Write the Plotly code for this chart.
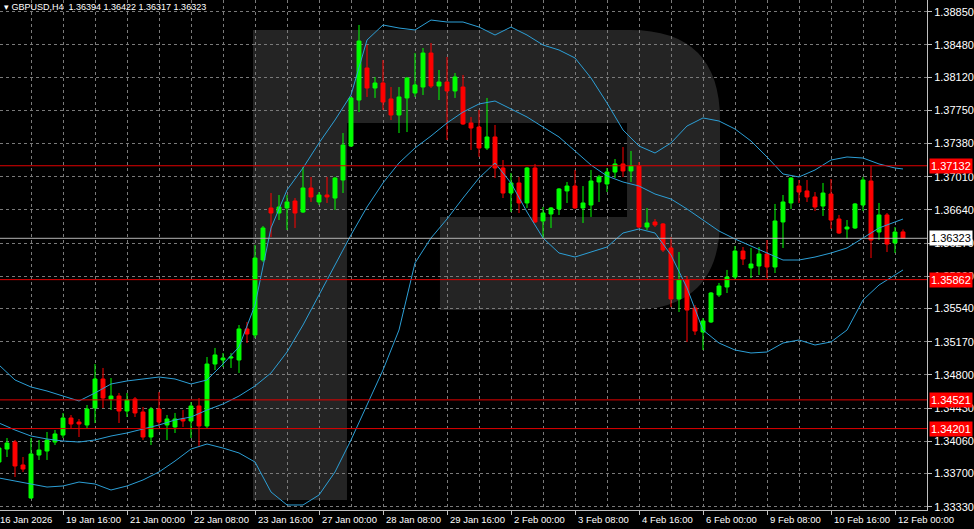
import plotly.graph_objects as go

# ---------------- data ----------------
open_ = [1.33828,1.33973,1.34051,1.33795,1.33427,1.33906,1.33951,1.34051,1.34129,1.34319,
         1.34274,1.34241,1.34430,1.34754,1.34531,1.34564,1.34397,1.34531,1.34386,1.34107,
         1.34419,1.34241,1.34219,1.34308,1.34286,1.34453,1.34230,1.34921,1.34966,1.34988,
         1.34966,1.35312,1.35245,1.36081,1.36661,1.36605,1.36661,1.36739,1.36616,1.36884,
         1.36728,1.36806,1.36772,1.36973,1.37352,1.37865,1.38222,1.37999,1.38055,1.37877,
         1.37698,1.37888,1.37943,1.38010,1.38389,1.38021,1.38066,1.37966,1.38010,1.37609,
         1.37564,1.37330,1.37453,1.37107,1.36828,1.36940,1.36717,1.37107,1.36516,1.36594,
         1.36650,1.36851,1.36906,1.36661,1.36694,1.36951,1.36929,1.37062,1.37152,1.37074,
         1.37129,1.36449,1.36505,1.36483,1.36215,1.35646,1.35858,1.35546,1.35278,1.35390,
         1.35691,1.35780,1.35891,1.36181,1.35992,1.36014,1.36148,1.36003,1.36505,1.36717,
         1.36906,1.36851,1.36784,1.36683,1.36817,1.36538,1.36427,1.36438,1.36694,1.36962,
         1.36393,1.36583,1.36271,1.36394]
high_ = [1.34074,1.34096,1.34074,1.33884,1.34096,1.34074,1.34163,1.34185,1.34375,1.34352,
         1.34308,1.34464,1.34921,1.34877,1.34765,1.34598,1.34598,1.34553,1.34442,1.34442,
         1.34609,1.34352,1.34375,1.34408,1.34497,1.34542,1.34999,1.35100,1.35044,1.35044,
         1.35356,1.35390,1.36248,1.36460,1.36828,1.36806,1.36806,1.36772,1.37118,1.37007,
         1.36839,1.37007,1.37007,1.37497,1.37899,1.38702,1.38479,1.38122,1.38311,1.38010,
         1.38010,1.38122,1.38389,1.38445,1.38501,1.38200,1.38345,1.38166,1.38144,1.37676,
         1.37754,1.37888,1.37587,1.37196,1.37051,1.37007,1.37118,1.37152,1.36672,1.36672,
         1.36884,1.36951,1.37085,1.36906,1.37085,1.37029,1.37107,1.37207,1.37341,1.37297,
         1.37174,1.36661,1.36538,1.36494,1.36337,1.36170,1.35903,1.35579,1.35434,1.35724,
         1.35825,1.35970,1.36237,1.36226,1.36215,1.36226,1.36304,1.36706,1.36806,1.37007,
         1.36973,1.36973,1.36839,1.36940,1.36984,1.36583,1.36527,1.36717,1.37007,1.37129,
         1.36717,1.36605,1.36449,1.36422]
low_ = [1.33739,1.33884,1.33661,1.33717,1.33416,1.33851,1.33851,1.34018,1.34096,1.34207,
        1.34107,1.34207,1.34263,1.34430,1.34408,1.34263,1.34330,1.34330,1.34074,1.34018,
        1.34219,1.34074,1.34152,1.34219,1.34096,1.33996,1.34207,1.34854,1.34888,1.34877,
        1.34821,1.35155,1.35211,1.36059,1.36337,1.36527,1.36416,1.36438,1.36605,1.36728,
        1.36694,1.36717,1.36639,1.36828,1.37341,1.37731,1.37899,1.37888,1.37754,1.37642,
        1.37497,1.37508,1.37899,1.37921,1.37999,1.37865,1.37419,1.37888,1.37587,1.37308,
        1.37230,1.37308,1.36995,1.36772,1.36616,1.36605,1.36661,1.36494,1.36326,1.36438,
        1.36583,1.36717,1.36650,1.36494,1.36561,1.36728,1.36839,1.36995,1.37007,1.36951,
        1.36438,1.36416,1.36449,1.36170,1.35557,1.35501,1.35167,1.35245,1.35077,1.35378,
        1.35668,1.35713,1.35858,1.36025,1.35880,1.35914,1.35880,1.35936,1.36215,1.36650,
        1.36717,1.36728,1.36627,1.36572,1.36427,1.36371,1.36315,1.36427,1.36627,1.36103,
        1.36304,1.36170,1.36159,1.36317]
close_ = [1.33984,1.34040,1.33784,1.33750,1.33918,1.33962,1.34074,1.34141,1.34319,1.34252,
          1.34252,1.34419,1.34754,1.34542,1.34564,1.34397,1.34520,1.34375,1.34107,1.34419,
          1.34274,1.34308,1.34308,1.34286,1.34453,1.34230,1.34921,1.35022,1.34988,1.34999,
          1.35312,1.35256,1.36103,1.36438,1.36605,1.36672,1.36728,1.36605,1.36884,1.36784,
          1.36806,1.36784,1.36995,1.37363,1.37888,1.38523,1.37999,1.38055,1.37843,1.37698,
          1.37899,1.38111,1.38033,1.38389,1.38021,1.38066,1.37966,1.38122,1.37598,1.37553,
          1.37330,1.37453,1.37107,1.36828,1.36940,1.36717,1.37107,1.36505,1.36605,1.36661,
          1.36873,1.36906,1.36661,1.36717,1.36962,1.37007,1.37062,1.37152,1.37074,1.37129,
          1.36449,1.36494,1.36471,1.36193,1.35646,1.35858,1.35523,1.35289,1.35401,1.35713,
          1.35791,1.35891,1.36181,1.36092,1.36036,1.36148,1.36003,1.36516,1.36728,1.36995,
          1.36839,1.36784,1.36672,1.36828,1.36527,1.36382,1.36449,1.36706,1.36973,1.36304,
          1.36583,1.36259,1.36393,1.36323]

# Bollinger bands, read every second bar
band_idx = list(range(0, 113, 2)) + [113]
bb_upper = [1.34910,1.34743,1.34665,1.34620,1.34564,1.34509,1.34598,1.34698,1.34732,1.34754,
            1.34776,1.34754,1.34698,1.34743,1.34921,1.35111,1.35579,1.36438,1.36862,1.37107,
            1.37386,1.37642,1.37921,1.38534,1.38702,1.38668,1.38646,1.38757,1.38735,1.38735,
            1.38679,1.38590,1.38679,1.38590,1.38479,1.38423,1.38334,1.38111,1.37832,1.37531,
            1.37352,1.37274,1.37386,1.37575,1.37665,1.37631,1.37542,1.37408,1.37230,1.37040,
            1.37007,1.37085,1.37196,1.37230,1.37218,1.37152,1.37107,1.37096]
bb_middle = [1.34263,1.34185,1.34118,1.34085,1.34062,1.34051,1.34074,1.34118,1.34152,1.34196,
             1.34241,1.34297,1.34330,1.34408,1.34475,1.34564,1.34676,1.34821,1.35055,1.35356,
             1.35691,1.36036,1.36360,1.36672,1.36940,1.37163,1.37330,1.37464,1.37609,1.37731,
             1.37821,1.37854,1.37765,1.37676,1.37564,1.37453,1.37297,1.37140,1.37018,1.36951,
             1.36906,1.36817,1.36761,1.36650,1.36527,1.36404,1.36315,1.36237,1.36159,1.36081,
             1.36081,1.36114,1.36159,1.36215,1.36326,1.36438,1.36505,1.36538]
bb_lower = [1.33650,1.33616,1.33583,1.33549,1.33561,1.33605,1.33583,1.33516,1.33561,1.33628,
            1.33717,1.33839,1.33973,1.34029,1.33984,1.33929,1.33828,1.33494,1.33349,1.33349,
            1.33460,1.33717,1.34074,1.34464,1.34854,1.35300,1.36048,1.36326,1.36538,1.36772,
            1.36995,1.37163,1.36940,1.36616,1.36326,1.36159,1.36114,1.36170,1.36226,1.36382,
            1.36427,1.36382,1.36137,1.35769,1.35300,1.35155,1.35077,1.35044,1.35055,1.35155,
            1.35189,1.35133,1.35167,1.35300,1.35635,1.35802,1.35914,1.35970]

# horizontal levels
red_levels = [1.37132, 1.35862, 1.34521, 1.34201]
bid_level = 1.36323

# axes
price_ticks = [1.38850,1.38480,1.38120,1.37750,1.37380,1.37010,1.36640,1.36270,
               1.35900,1.35540,1.35170,1.34800,1.34430,1.34060,1.33700,1.33330]
time_label_idx = [0,8,16,24,32,40,48,56,64,72,80,88,96,104,112]
time_labels = ["16 Jan 2026","19 Jan 16:00","21 Jan 00:00","22 Jan 08:00","23 Jan 16:00",
               "27 Jan 00:00","28 Jan 08:00","29 Jan 16:00","2 Feb 00:00","3 Feb 08:00",
               "4 Feb 16:00","6 Feb 00:00","9 Feb 08:00","10 Feb 16:00","12 Feb 00:00"]
title_text = "GBPUSD,H4  1.36394 1.36422 1.36317 1.36323"

# ---------------- figure ----------------
W, H = 974, 529
PW, PH = 927, 510   # plot area in px
FONT = "Liberation Sans"
bars = list(range(len(open_)))

fig = go.Figure()

fig.add_trace(go.Candlestick(
    x=bars, open=open_, high=high_, low=low_, close=close_,
    increasing=dict(line=dict(color="#00ff00", width=1), fillcolor="#00ff00"),
    decreasing=dict(line=dict(color="#ff0000", width=1), fillcolor="#ff0000"),
    whiskerwidth=0, showlegend=False, hoverinfo="skip"))

band_color = "#2c9fd6"
for series in (bb_upper, bb_middle, bb_lower):
    fig.add_trace(go.Scatter(x=band_idx, y=series, mode="lines",
                             line=dict(color=band_color, width=1),
                             showlegend=False, hoverinfo="skip"))

shapes = []
for lv in red_levels:
    shapes.append(dict(type="line", xref="paper", x0=0, x1=1, yref="y", y0=lv, y1=lv,
                       line=dict(color="#e00000", width=1), layer="above"))
shapes.append(dict(type="line", xref="paper", x0=0, x1=1, yref="y", y0=bid_level, y1=bid_level,
                   line=dict(color="#b4b4b4", width=1), layer="above"))

# watermark "R" (decoration, in pixel space of the plot area)
def P(x, y):
    return f"{x/PW:.4f},{1-y/PH:.4f}"
r_path = ("M " + P(253, 30) + " L " + P(630, 30) + " Q " + P(720, 30) + " " + P(720, 120) +
          " L " + P(720, 220) + " Q " + P(720, 310) + " " + P(630, 310) +
          " L " + P(440, 310) + " L " + P(440, 217) + " L " + P(627, 217) + " L " + P(627, 123) +
          " L " + P(347, 123) + " L " + P(347, 500) + " L " + P(253, 500) + " Z")
shapes.append(dict(type="path", xref="paper", yref="paper", path=r_path,
                   fillcolor="#242424", line=dict(width=0), layer="below"))

annotations = []
annotations.append(dict(xref="paper", yref="paper", x=0, y=1, xanchor="left", yanchor="top",
                        xshift=2, yshift=0, showarrow=False,
                        text="\u25be " + title_text,
                        font=dict(family=FONT, size=9, color="#ffffff")))
for lv in red_levels:
    annotations.append(dict(xref="paper", yref="y", x=1, y=lv, xanchor="left", yanchor="middle",
                            xshift=2, showarrow=False, text=f"{lv:.5f}",
                            bgcolor="#ff0000", borderpad=1,
                            font=dict(family=FONT, size=11, color="#ffffff")))
annotations.append(dict(xref="paper", yref="y", x=1, y=bid_level, xanchor="left", yanchor="middle",
                        xshift=2, showarrow=False, text=f"{bid_level:.5f}",
                        bgcolor="#ffffff", borderpad=1,
                        font=dict(family=FONT, size=11, color="#000000")))
for i, (k, lab) in enumerate(zip(time_label_idx, time_labels)):
    annotations.append(dict(xref="x", yref="paper", x=max(k, 0.125), y=0, xanchor="left",
                            yanchor="top", xshift=1 if i else -2, yshift=-2, showarrow=False,
                            text=lab, font=dict(family=FONT, size=9.5, color="#ffffff")))

fig.update_layout(
    width=W, height=H,
    margin=dict(l=0, r=W - PW, t=0, b=H - PH),
    paper_bgcolor="#000000", plot_bgcolor="#000000",
    shapes=shapes, annotations=annotations,
    xaxis=dict(range=[0.125, 116.0], rangeslider=dict(visible=False),
               tickvals=time_label_idx[1:], showticklabels=False,
               ticks="outside", ticklen=4, tickcolor="#c0c0c0",
               showgrid=True, gridcolor="#7a7a7a", griddash="3px,3px", gridwidth=1,
               minor=dict(dtick=4, tick0=0, showgrid=True, gridcolor="#7a7a7a",
                          griddash="3px,3px", ticks=""),
               showline=True, linecolor="#c0c0c0", linewidth=1, zeroline=False),
    yaxis=dict(side="right", range=[1.33293, 1.389805],
               tickvals=price_ticks, ticktext=[f"{v:.5f}" for v in price_ticks],
               ticks="outside", ticklen=4, tickcolor="#c0c0c0",
               tickfont=dict(family=FONT, size=11, color="#ffffff"),
               showgrid=True, gridcolor="#7a7a7a", griddash="3px,3px", gridwidth=1,
               showline=True, linecolor="#c0c0c0", linewidth=1, zeroline=False),
    hovermode=False,
)

fig.write_html("out.html",
               config={"displayModeBar": False},
               post_script="document.body.style.margin='0';document.body.style.padding='0';"
                           "document.body.style.overflow='hidden';")
